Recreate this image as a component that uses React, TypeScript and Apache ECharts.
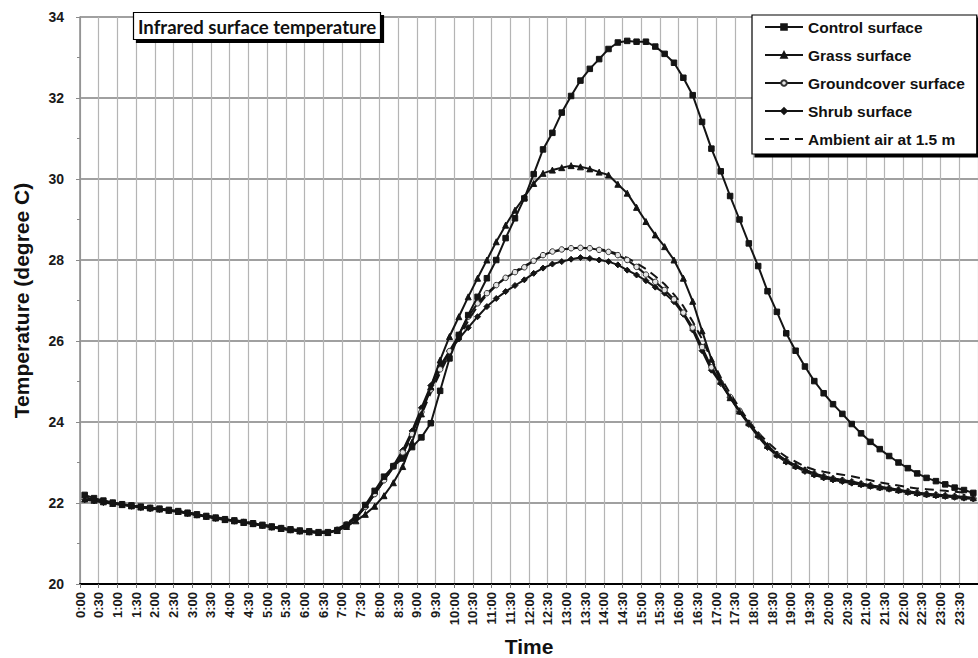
import React, { useEffect, useRef } from "react";
import * as echarts from "echarts";

const times = [
  "0:00","0:15","0:30","0:45","1:00","1:15","1:30","1:45","2:00","2:15","2:30","2:45",
  "3:00","3:15","3:30","3:45","4:00","4:15","4:30","4:45","5:00","5:15","5:30","5:45",
  "6:00","6:15","6:30","6:45","7:00","7:15","7:30","7:45","8:00","8:15","8:30","8:45",
  "9:00","9:15","9:30","9:45","10:00","10:15","10:30","10:45","11:00","11:15","11:30","11:45",
  "12:00","12:15","12:30","12:45","13:00","13:15","13:30","13:45","14:00","14:15","14:30","14:45",
  "15:00","15:15","15:30","15:45","16:00","16:15","16:30","16:45","17:00","17:15","17:30","17:45",
  "18:00","18:15","18:30","18:45","19:00","19:15","19:30","19:45","20:00","20:15","20:30","20:45",
  "21:00","21:15","21:30","21:45","22:00","22:15","22:30","22:45","23:00","23:15","23:30","23:45",
];

const tickLabels = [
  "0:00","0:30","1:00","1:30","2:00","2:30","3:00","3:30","4:00","4:30","5:00","5:30",
  "6:00","6:30","7:00","7:30","8:00","8:30","9:00","9:30","10:00","10:30","11:00","11:30",
  "12:00","12:30","13:00","13:30","14:00","14:30","15:00","15:30","16:00","16:30","17:00","17:30",
  "18:00","18:30","19:00","19:30","20:00","20:30","21:00","21:30","22:00","22:30","23:00","23:30",
  "24:00",
];

const controlSurface = [
  22.20, 22.12, 22.06, 22.01, 21.97, 21.94, 21.91, 21.88, 21.86, 21.83, 21.80, 21.76, 21.72, 21.68, 21.64, 21.60, 21.57, 21.53, 21.50, 21.46, 21.42, 21.38, 21.35, 21.32, 21.30, 21.28, 21.28,
  21.33, 21.46, 21.65, 21.95, 22.30, 22.65, 22.91, 23.10, 23.38, 23.62, 23.97, 24.77, 25.57, 26.15, 26.64, 27.09, 27.55, 28.00, 28.54, 29.03, 29.52,
  30.12, 30.73, 31.14, 31.64, 32.05, 32.43, 32.72, 32.96, 33.21, 33.37, 33.41, 33.39, 33.39, 33.27, 33.09, 32.87, 32.50, 32.07, 31.41, 30.75, 30.19, 29.58, 29.00, 28.41,
  27.85, 27.23, 26.72, 26.19, 25.76, 25.37, 25.01, 24.71, 24.44, 24.20, 23.95, 23.72, 23.51, 23.33, 23.16, 23.00, 22.86, 22.73, 22.62, 22.54, 22.46, 22.38, 22.32, 22.25,
];

const grassSurface = [
  22.10, 22.07, 22.03, 21.99, 21.96, 21.93, 21.90, 21.88, 21.85, 21.82, 21.79, 21.75, 21.71, 21.67, 21.63, 21.59, 21.56, 21.52, 21.49, 21.45, 21.41, 21.37, 21.34, 21.31, 21.29, 21.27, 21.27,
  21.32, 21.42, 21.56, 21.72, 21.92, 22.18, 22.50, 22.90, 23.50, 24.20, 24.87, 25.53, 26.11, 26.60, 27.09, 27.55, 28.00, 28.45, 28.86, 29.23, 29.55,
  29.89, 30.14, 30.22, 30.28, 30.33, 30.30, 30.25, 30.17, 30.10, 29.87, 29.65, 29.30, 28.95, 28.62, 28.33, 28.00, 27.55, 26.98, 26.25, 25.55, 25.00, 24.60, 24.27, 23.98,
  23.69, 23.42, 23.21, 23.05, 22.93, 22.82, 22.73, 22.66, 22.61, 22.57, 22.53, 22.48, 22.44, 22.40, 22.37, 22.33, 22.29, 22.26, 22.23, 22.21, 22.19, 22.17, 22.15, 22.13,
];

const groundcoverSurface = [
  22.12, 22.08, 22.04, 22.00, 21.96, 21.93, 21.90, 21.87, 21.85, 21.82, 21.79, 21.75, 21.71, 21.67, 21.63, 21.60, 21.56, 21.53, 21.49, 21.45, 21.41, 21.38, 21.34, 21.31, 21.29, 21.27, 21.27,
  21.34, 21.47, 21.64, 21.90, 22.22, 22.56, 22.90, 23.25, 23.70, 24.25, 24.80, 25.30, 25.75, 26.15, 26.60, 26.93, 27.18, 27.38, 27.56, 27.70, 27.82,
  27.98, 28.12, 28.21, 28.26, 28.29, 28.30, 28.29, 28.25, 28.20, 28.12, 28.00, 27.83, 27.64, 27.46, 27.26, 27.03, 26.70, 26.33, 25.85, 25.35, 24.97, 24.62, 24.28, 23.97,
  23.67, 23.40, 23.20, 23.04, 22.92, 22.81, 22.72, 22.65, 22.60, 22.56, 22.52, 22.47, 22.43, 22.39, 22.36, 22.32, 22.28, 22.25, 22.22, 22.20, 22.18, 22.16, 22.14, 22.12,
];

const shrubSurface = [
  22.08, 22.05, 22.01, 21.98, 21.95, 21.92, 21.89, 21.86, 21.84, 21.81, 21.78, 21.74, 21.70, 21.66, 21.62, 21.58, 21.55, 21.51, 21.48, 21.44, 21.40, 21.36, 21.33, 21.30, 21.28, 21.26, 21.26,
  21.32, 21.45, 21.63, 21.90, 22.22, 22.57, 22.92, 23.30, 23.78, 24.35, 24.90, 25.38, 25.75, 26.05, 26.33, 26.60, 26.85, 27.05, 27.22, 27.37, 27.51,
  27.67, 27.80, 27.90, 27.96, 28.02, 28.06, 28.04, 28.00, 27.96, 27.88, 27.75, 27.63, 27.49, 27.33, 27.18, 26.97, 26.66, 26.27, 25.76, 25.28, 24.95, 24.60, 24.25, 23.94,
  23.64, 23.37, 23.17, 23.01, 22.89, 22.78, 22.69, 22.62, 22.57, 22.53, 22.49, 22.45, 22.41, 22.37, 22.34, 22.30, 22.26, 22.23, 22.20, 22.18, 22.16, 22.14, 22.12, 22.10,
];

const ambientAir = [
  22.14, 22.09, 22.05, 22.01, 21.97, 21.94, 21.91, 21.88, 21.86, 21.83, 21.80, 21.77, 21.73, 21.69, 21.65, 21.61, 21.58, 21.54, 21.51, 21.47, 21.43, 21.39, 21.36, 21.33, 21.31, 21.29, 21.30,
  21.36, 21.49, 21.67, 21.92, 22.22, 22.55, 22.88, 23.22, 23.65, 24.18, 24.72, 25.22, 25.68, 26.08, 26.50, 26.86, 27.14, 27.37, 27.57, 27.72, 27.85,
  27.98, 28.12, 28.20, 28.25, 28.28, 28.30, 28.29, 28.27, 28.22, 28.15, 28.05, 27.92, 27.78, 27.60, 27.40, 27.15, 26.86, 26.48, 26.05, 25.55, 25.10, 24.70, 24.35, 24.02,
  23.74, 23.50, 23.30, 23.14, 23.02, 22.90, 22.82, 22.77, 22.73, 22.70, 22.66, 22.61, 22.56, 22.51, 22.47, 22.43, 22.39, 22.36, 22.34, 22.32, 22.30, 22.28, 22.26, 22.24,
];

const seriesNames = [
  "Control surface",
  "Grass surface",
  "Groundcover surface",
  "Shrub surface",
  "Ambient air at 1.5 m",
];

const FONT = "'Liberation Sans', Arial, sans-serif";
const INK = "#141414";

export default function App() {
  const ref = useRef<HTMLDivElement>(null);

  useEffect(() => {
    if (!ref.current) return;
    const chart = echarts.init(ref.current, undefined, { renderer: "svg" });

    const lineBase = (name: string, data: number[], symbol: string, size: number, extra: any = {}) => ({
      name,
      type: "line",
      xAxisIndex: 0,
      yAxisIndex: 0,
      data,
      symbol,
      symbolSize: size,
      showSymbol: true,
      smooth: false,
      lineStyle: { color: INK, width: 2 },
      itemStyle: { color: INK, borderColor: INK, borderWidth: 1 },
      emphasis: { disabled: true },
      ...extra,
    });

    const hidden = "rgba(0,0,0,0)";

    chart.setOption({
      animation: false,
      backgroundColor: "#ffffff",
      title: {
        text: "Infrared surface temperature",
        left: 133,
        top: 12,
        padding: [5, 5, 4, 5],
        borderColor: "#000",
        borderWidth: 1.2,
        backgroundColor: "#fff",
        shadowColor: "#000",
        shadowBlur: 0,
        shadowOffsetX: 3,
        shadowOffsetY: 3,
        textStyle: {
          fontFamily: "Lato, 'Open Sans', sans-serif",
          fontWeight: "bold",
          fontSize: 18.6,
          color: "#111",
        },
      },
      legend: {
        data: [
          { name: seriesNames[0] },
          { name: seriesNames[1] },
          { name: seriesNames[2] },
          { name: seriesNames[3] },
          { name: seriesNames[4], itemStyle: { color: hidden, borderColor: hidden, borderWidth: 0 } },
        ],
        orient: "vertical",
        left: 752,
        top: 15,
        padding: [4, 12, 7, 12],
        itemGap: 12,
        itemWidth: 38,
        itemHeight: 7,
        borderColor: "#000",
        borderWidth: 1.2,
        backgroundColor: "#fff",
        shadowColor: "#000",
        shadowBlur: 0,
        shadowOffsetX: 3,
        shadowOffsetY: 3,
        textStyle: {
          fontFamily: FONT,
          fontWeight: "bold",
          fontSize: 15.5,
          color: "#111",
        },
      },
      grid: {
        left: 80,
        top: 17,
        width: 898,
        height: 567,
        containLabel: false,
        outerBoundsMode: "none",
      },
      xAxis: [
        {
          type: "category",
          data: times,
          boundaryGap: true,
          show: false,
          axisLine: { show: false },
          axisTick: { show: false },
          axisLabel: { show: false },
          splitLine: { show: false },
        },
        {
          type: "category",
          data: tickLabels,
          boundaryGap: false,
          position: "bottom",
          name: "Time",
          nameLocation: "middle",
          nameGap: 52,
          nameTextStyle: {
            fontFamily: FONT,
            fontWeight: "bold",
            fontSize: 21,
            color: "#111",
          },
          axisLine: { show: true, onZero: false, lineStyle: { color: "#000", width: 2 } },
          axisTick: { show: true, interval: 0, length: 4, lineStyle: { color: "#777", width: 1 } },
          axisLabel: {
            interval: 0,
            rotate: 90,
            margin: 8,
            fontFamily: FONT,
            fontWeight: "bold",
            fontSize: 13,
            color: "#1a1a1a",
            formatter: (v: string) => (v === "24:00" ? "" : v),
          },
          splitLine: { show: true, interval: 0, lineStyle: { color: "#b4b4b4", width: 1.2 } },
        },
      ],
      yAxis: {
        type: "value",
        min: 20,
        max: 34,
        interval: 2,
        name: "Temperature (degree C)",
        nameLocation: "middle",
        nameRotate: 90,
        nameGap: 48,
        nameTextStyle: {
          fontFamily: FONT,
          fontWeight: "bold",
          fontSize: 21,
          color: "#111",
        },
        axisLine: { show: true, lineStyle: { color: "#8a8a8a", width: 1.5 } },
        axisTick: { show: true, length: 4, lineStyle: { color: "#8a8a8a", width: 1 } },
        minorTick: { show: true, splitNumber: 2, length: 3, lineStyle: { color: "#8a8a8a", width: 1 } },
        minorSplitLine: { show: false },
        axisLabel: {
          margin: 16,
          fontFamily: FONT,
          fontWeight: "bold",
          fontSize: 14,
          color: "#1a1a1a",
        },
        splitLine: { show: true, lineStyle: { color: "#808080", width: 1.6 } },
      },
      series: [
        lineBase(seriesNames[4], ambientAir, "none", 0, {
          lineStyle: { color: INK, width: 2, type: [9, 6] },
          z: 2,
        }),
        lineBase(seriesNames[3], shrubSurface, "diamond", 6, { z: 3 }),
        lineBase(seriesNames[2], groundcoverSurface, "circle", 5.5, {
          itemStyle: { color: "#e6e6e6", borderColor: "#333", borderWidth: 1 },
          z: 3,
        }),
        lineBase(seriesNames[1], grassSurface, "triangle", 6, { z: 4 }),
        lineBase(seriesNames[0], controlSurface, "rect", 5.5, { z: 5 }),
      ],
    });

    return () => chart.dispose();
  }, []);

  return (
    <div
      ref={ref}
      style={{ position: "absolute", left: 0, top: 0, width: 978, height: 658 }}
    />
  );
}
